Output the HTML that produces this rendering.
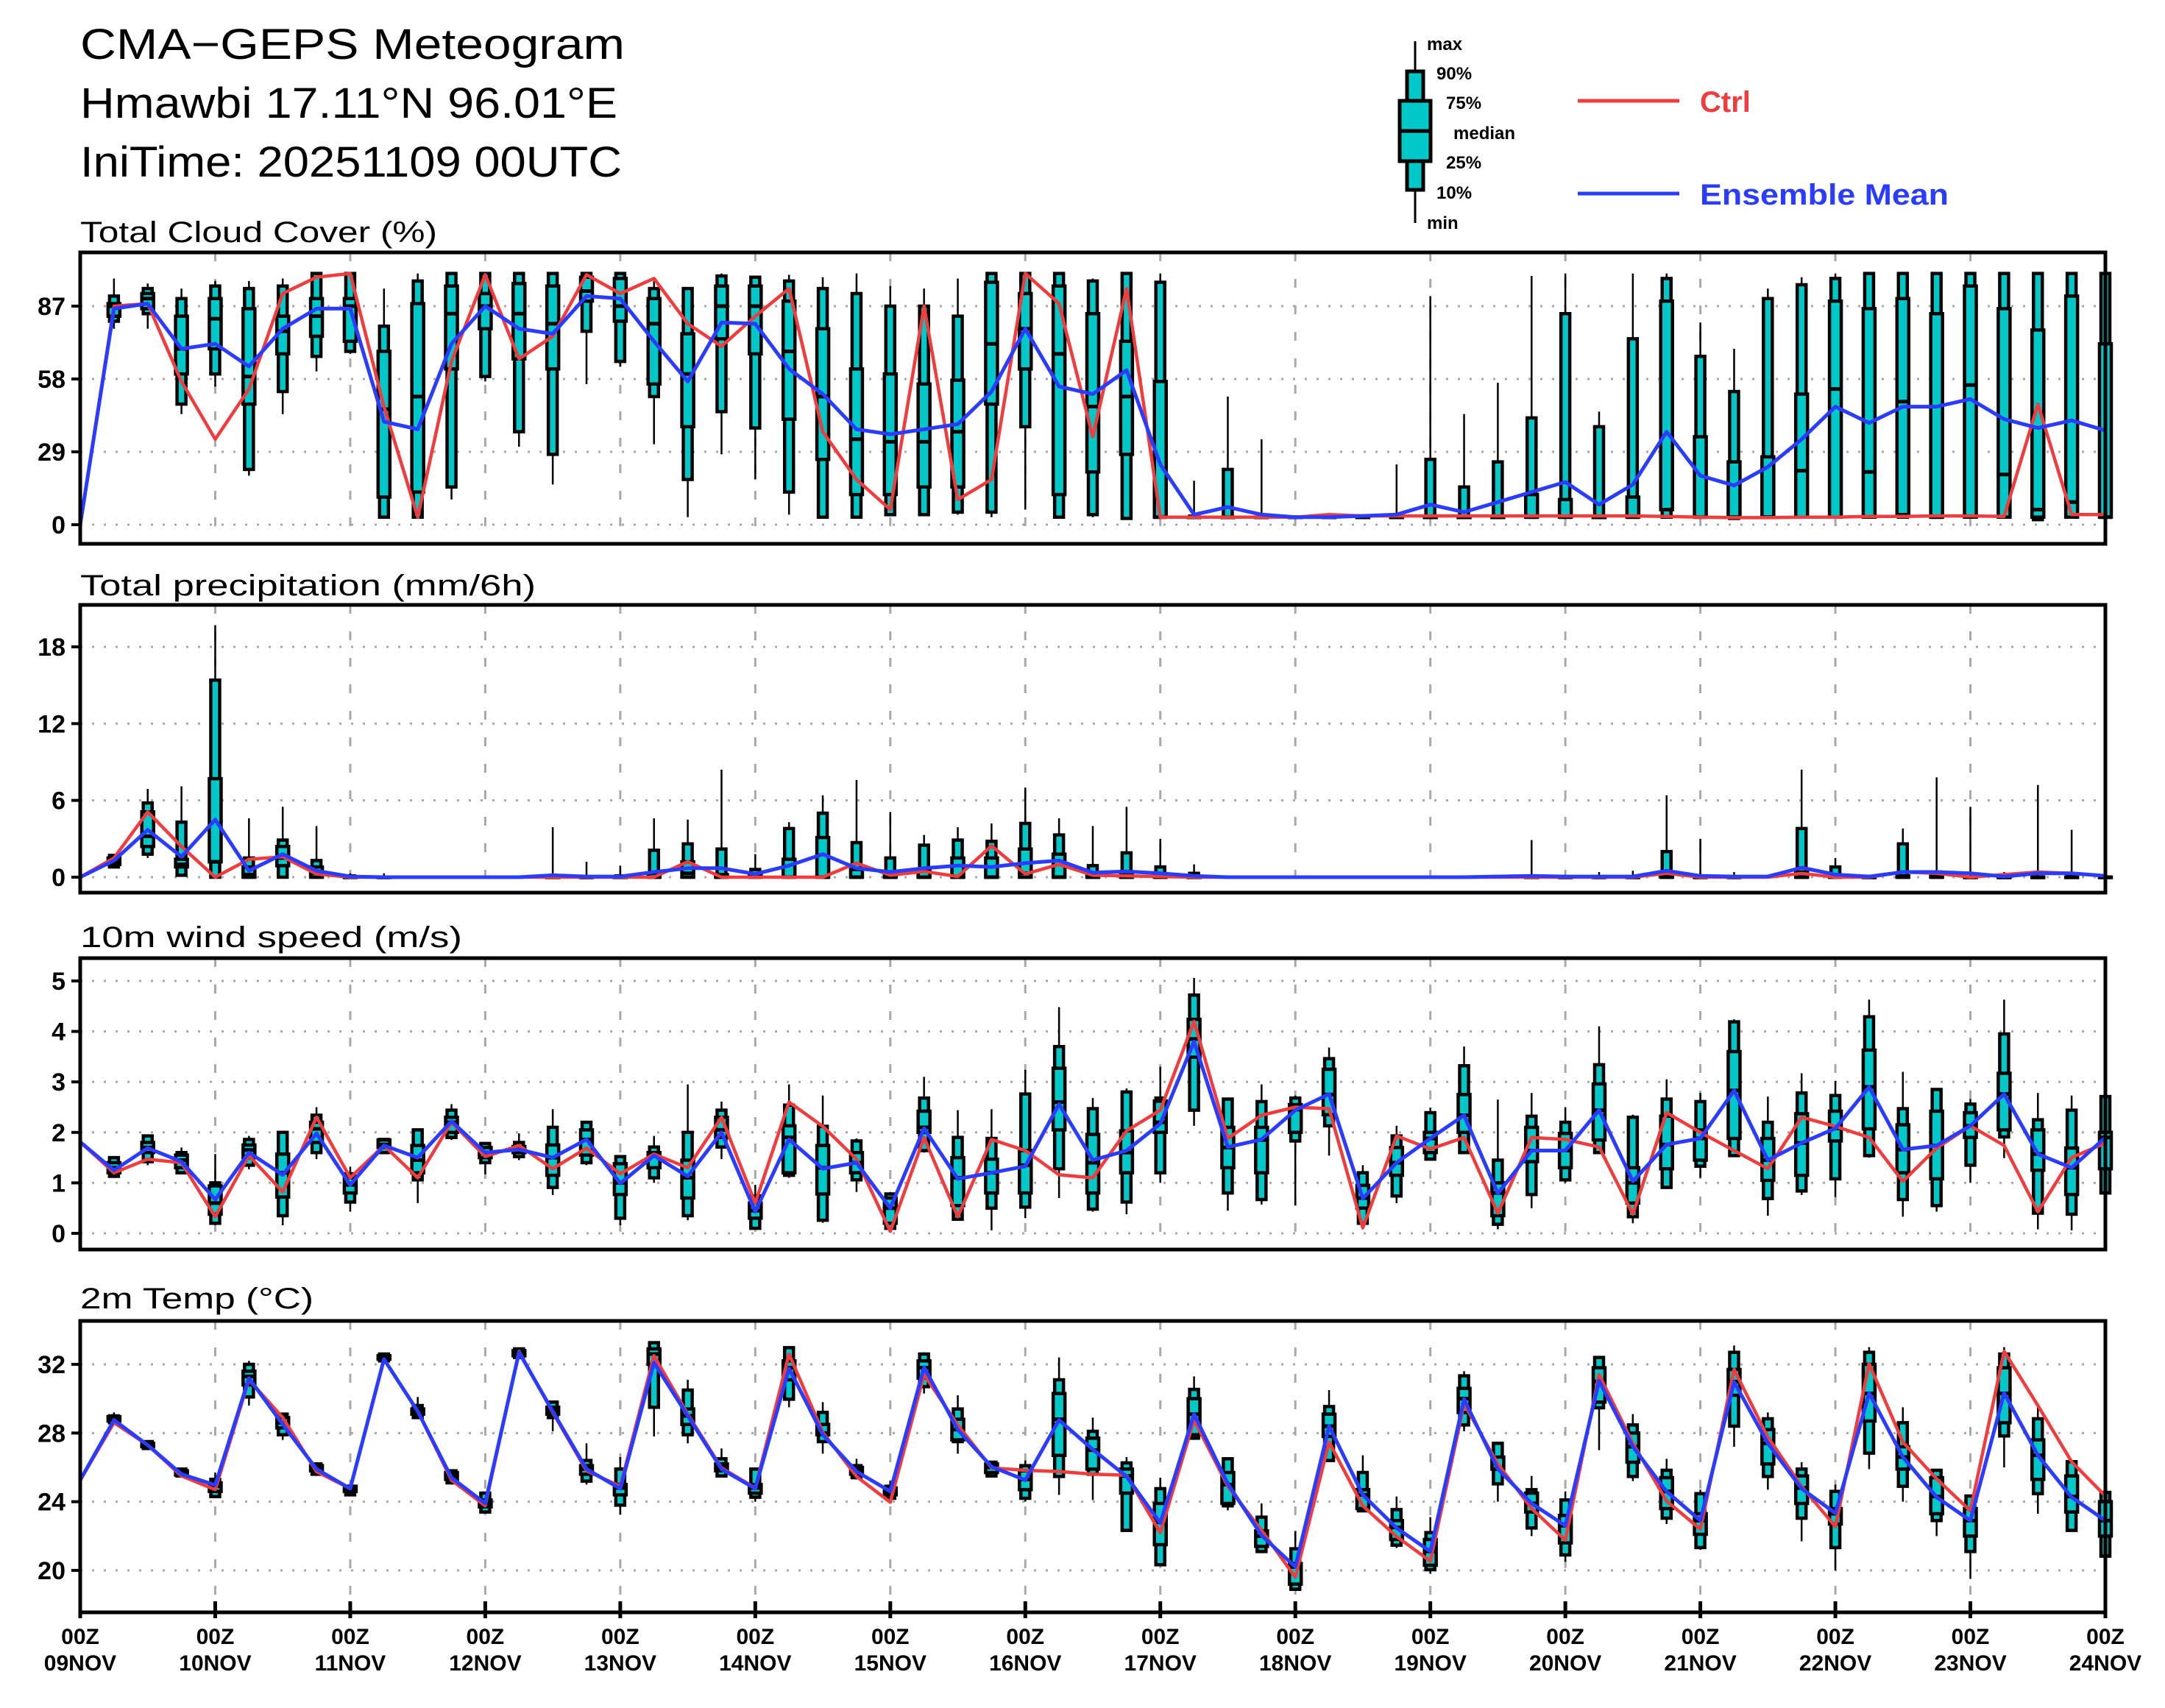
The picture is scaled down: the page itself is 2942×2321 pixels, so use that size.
<!DOCTYPE html>
<html><head><meta charset="utf-8"><title>CMA-GEPS Meteogram</title>
<style>
html,body{margin:0;padding:0;background:#fff;}
svg{display:block;font-family:"Liberation Sans",sans-serif;}
</style></head>
<body>
<svg id="chart" width="2942" height="2321" viewBox="0 0 2942 2321" xmlns="http://www.w3.org/2000/svg">
<rect width="2942" height="2321" fill="#fff"/>
<g font-size="58" fill="#000">
<text x="109" y="80" textLength="740" lengthAdjust="spacingAndGlyphs">CMA−GEPS Meteogram</text>
<text x="109" y="160" textLength="730" lengthAdjust="spacingAndGlyphs">Hmawbi 17.11°N 96.01°E</text>
<text x="109" y="240" textLength="736" lengthAdjust="spacingAndGlyphs">IniTime: 20251109 00UTC</text>
</g>
<g>
<g>
<line x1="1923" y1="56" x2="1923" y2="303" stroke="#000" stroke-width="3"/>
<rect x="1912" y="97" width="22" height="161" fill="#00c8c8" stroke="#000" stroke-width="5"/>
<rect x="1902" y="137" width="42" height="82" fill="#00c8c8" stroke="#000" stroke-width="5"/>
<line x1="1900" y1="178" x2="1946" y2="178" stroke="#000" stroke-width="5"/>
</g>
<g font-size="24" font-weight="bold" fill="#000">
<text x="1939" y="68">max</text>
<text x="1952" y="108">90%</text>
<text x="1965" y="148">75%</text>
<text x="1975" y="189">median</text>
<text x="1965" y="229">25%</text>
<text x="1952" y="270">10%</text>
<text x="1939" y="311">min</text>
</g>
<line x1="2144" y1="137" x2="2282" y2="137" stroke="#f03c3c" stroke-width="5"/>
<text x="2310" y="152" font-size="40" font-weight="bold" fill="#f03c3c">Ctrl</text>
<line x1="2144" y1="263" x2="2282" y2="263" stroke="#2a3cff" stroke-width="5"/>
<text x="2310" y="278" font-size="40" font-weight="bold" fill="#2a3cff" textLength="338" lengthAdjust="spacingAndGlyphs">Ensemble Mean</text>
</g>
<g id="panels"></g>
</svg>
<script>
// ---- shared x categories (6-hourly steps, 61 points) ----
const dayLabels = ["09NOV","10NOV","11NOV","12NOV","13NOV","14NOV","15NOV","16NOV","17NOV","18NOV","19NOV","20NOV","21NOV","22NOV","23NOV","24NOV"];

// ---- Total cloud cover ----
const cloudTicks = [0,29,58,87];
const cloudCtrl = [0,87,88,57,34,54,92,98.5,100,47,3,65,99.5,66,75,99.5,92,98,80,71,83,94,37,18,6,87,10,18,100,88,35,94,3,3,3,3,3,4,3.5,3.5,3.5,3.5,3.5,3.5,3.5,3.5,3.5,3.3,3,2.8,2.8,3,3,3.3,3.3,3.5,3.5,3.3,48,4,4];
const cloudMean = [0,86,88,70,72,63,78,86,86,41,38,72,87,78,76,91,90,73,57,80.5,80,62,52,38,36,38,40,53,78,55,52,61.5,24,4,7,4,3,3,3.5,4,8,5,9,13,17,8,16,37,19.5,15.6,23,34,47,40.5,47,47,50,42,38.5,41.5,37.5];
const cloudBox = [null,
[78,81,83,87,88,91,98],[78,84,86,90,92,94,96],[44,48,60,70,83,90,94],[55,60,70,82,90,95,97],[19.5,22,48,59,86,94,97],
[44,53,68,77,83,95,98],[61,67,75,83,90,100,100],[68,69,73,87,90,100,100],[3,3,11,46,69,79,94],[3,3,13,51,88,97,100],
[10,15,62,84,95,100,100],[57,59,78,87,92,100,100],[31,37,66,84,96,100,100],[16,28,62,80,95,100,100],[56,77,89,93,98.5,100,100],
[63,65,81,87,98,100,100],[32,51,56,80,90,94,97],[3,18,39,60,76,94,94],[28,45,74,87,95,99,100],[18,38.5,68,87,95,98.5,99],
[4,13,42,69,89,97,99.5],[3,3,26,51,78,94,98.5],[3,3,12,34,62,92,100],[4,4,12,33,60,87,95],[4,4,15,33,56,87,94],
[4,5,15,37,57.5,83,98],[3,5,48,72,96.5,100,100],[6,39,62,78,92,100,100],[2.5,3,12,68,95,100,100],[3,4,21,47,84,97,98],
[2.5,2.5,28,51,73,100,100],[3,3,3,3,57,96.5,100],[3,3,3,3,3,3.4,17.5],[3,3,3,3,3,22,51],[3,3,3,3,3,3,34],
[3,3,3,3,3,3,3.5],[3,3,3,3,3,3,4],[3,3,3,3,3,3,4],[3,3,3,3,3,3,24],[3,3,3,3,3,26,91],
[3,3,3,3,3,15,44],[3,3,3,3,3,25,56.5],[3,3,3,3,12,42.5,99],[3,3,3,3,10,84,100],[3,3,3,3,3,39,45],
[3,3,3,3,11,74,100],[3,3,6,6,89,98,100],[3,3,3,3,35,67,80.5],[2.5,2.5,3,3,25,53,70],[3,3,3,3,27,90,94],
[3,3,3,21.5,52,95.5,98.5],[3,3,3,54,89,98,100],[3,3,3,21,86,100,100],[3,3,4,49,90,100,100],[3,3,3,3,84,100,100],
[3,3,3,55.6,95,100,100],[3,3,3,20,86,100,100],[2,2,3,6,77.5,100,100],[3,3,3,9,91,100,100],[3,3,3,3,72,100,100]];

// ---- Total precipitation ----
const precipTicks = [0,6,12,18];
const precipCtrl = [0,1.5,5.1,2.4,0,1.4,1.6,0.25,0,0,0,0,0,0,0,0,0,0,1.2,0,0,0,0,1.1,0.15,0.45,0.05,2.45,0.25,1.0,0.15,0.1,0.05,0,0,0,0,0,0,0,0,0,0,0,0,0,0,0.3,0,0,0,0.3,0,0,0.4,0.3,0,0.2,0.4,0.3,0.1];
const precipMean = [0,1.3,3.7,1.6,4.5,0.5,1.8,0.5,0.05,0,0,0,0,0,0.15,0.05,0.05,0.4,0.7,0.7,0.25,0.9,1.8,0.7,0.4,0.7,0.9,0.8,1.1,1.3,0.35,0.45,0.3,0.1,0,0,0,0,0,0,0,0,0.05,0.1,0.05,0.05,0.05,0.5,0.1,0.05,0.05,0.75,0.2,0.05,0.4,0.4,0.3,0.05,0.3,0.3,0.1];
const precipBox = [null,
[0.8,0.8,1.0,1.2,1.5,1.7,1.7],[1.5,1.8,2.4,3.2,5.1,5.8,6.9],[0.15,0.15,0.8,1.0,1.4,4.3,7.1],[0,0,1.2,1.2,7.7,15.4,19.7],[0,0,0,0.2,0.8,1.5,4.6],
[0,0,0.9,1.5,2.4,2.9,5.5],[0,0,0,0.3,0.8,1.3,4],[0,0,0,0,0,0.1,0.3],[0,0,0,0,0,0,0.3],[0,0,0,0,0,0,0],
[0,0,0,0,0,0,0],[0,0,0,0,0,0,0],[0,0,0,0,0,0,0],[0,0,0,0,0,0.05,3.9],[0,0,0,0,0,0,1.2],
[0,0,0,0,0,0.1,0.9],[0,0,0,0,0.3,2.1,4.6],[0,0,0,0.3,1.2,2.6,4.5],[0,0,0,0,0.2,2.2,8.4],[0,0,0,0,0.2,0.6,1.8],
[0,0,0,0,1.4,3.8,4.3],[0,0,0,0,3.1,5.0,6.4],[0,0,0,0,0.6,2.7,7.6],[0,0,0,0,0.2,1.5,5.1],[0,0,0,0,0.6,2.5,3.3],
[0,0,0,0,1.5,2.9,3.9],[0,0,0,0,1.5,2.8,4.2],[0,0,0,0.3,2.2,4.2,7.0],[0,0,0,0,1.8,3.3,4.6],[0,0,0,0,0.2,0.9,4.0],
[0,0,0,0,0.2,1.9,5.5],[0,0,0,0,0.1,0.8,3.0],[0,0,0,0,0,0.3,1.0],[0,0,0,0,0,0,0],[0,0,0,0,0,0,0],
[0,0,0,0,0,0,0],[0,0,0,0,0,0,0],[0,0,0,0,0,0,0],[0,0,0,0,0,0,0],[0,0,0,0,0,0,0],
[0,0,0,0,0,0,0],[0,0,0,0,0,0,0],[0,0,0,0,0,0.1,2.9],[0,0,0,0,0,0,0.2],[0,0,0,0,0,0,0.4],
[0,0,0,0,0,0,0.5],[0,0,0,0,0.2,2.0,6.4],[0,0,0,0,0,0,3.0],[0,0,0,0,0,0,0.4],[0,0,0,0,0,0,0],
[0,0,0,0,0.4,3.8,8.4],[0,0,0,0,0.1,0.8,1.5],[0,0,0,0,0,0,0.2],[0,0,0,0,0.1,2.6,3.8],[0,0,0,0,0.1,0.4,7.8],
[0,0,0,0,0,0,5.5],[0,0,0,0,0,0,0.4],[0,0,0,0,0,0,7.2],[0,0,0,0,0,0.1,3.7],[0,0,0,0,0,0,0.2]];

// ---- 10m wind speed ----
const windTicks = [0,1,2,3,4,5];
const windCtrl = [1.81,1.2,1.47,1.4,0.33,1.54,0.82,2.3,1.1,1.74,1.1,2.2,1.52,1.74,1.28,1.69,1.18,1.57,1.3,2.3,0.6,2.6,2.12,1.47,0.04,1.9,0.33,1.86,1.64,1.16,1.1,2.03,2.44,4.2,1.88,2.34,2.5,2.47,0.11,1.93,1.67,1.9,0.4,1.9,1.86,1.71,0.38,2.39,2.0,1.64,1.28,2.3,2.12,1.9,1.03,1.69,2.13,1.74,0.43,1.5,1.79];
const windMean = [1.81,1.25,1.69,1.42,0.67,1.6,1.16,1.98,0.96,1.74,1.5,2.22,1.6,1.66,1.5,1.86,0.99,1.54,1.13,2.0,0.43,1.86,1.28,1.4,0.5,2.08,1.08,1.2,1.33,2.56,1.45,1.64,2.17,3.8,1.71,1.86,2.44,2.76,0.69,1.4,1.88,2.34,0.79,1.64,1.64,2.44,1.03,1.76,1.88,2.83,1.45,1.79,2.08,2.9,1.66,1.74,2.13,2.76,1.57,1.3,1.9];
const windBox = [null,
[1.1,1.13,1.2,1.3,1.4,1.5,1.52],[1.35,1.42,1.6,1.7,1.8,1.93,1.93],[1.2,1.2,1.3,1.45,1.55,1.6,1.7],[0.16,0.2,0.38,0.6,0.94,1.0,1.57],[1.27,1.35,1.5,1.65,1.75,1.86,1.93],
[0.16,0.35,0.72,1.2,1.57,2.0,2.0],[1.47,1.6,1.8,2.07,2.2,2.34,2.5],[0.43,0.62,0.8,0.96,1.1,1.18,1.32],[1.6,1.6,1.7,1.76,1.85,1.86,1.88],[0.6,1.06,1.2,1.45,1.74,2.05,2.08],
[1.85,1.9,2.0,2.2,2.3,2.44,2.56],[1.17,1.4,1.5,1.6,1.7,1.78,1.78],[1.45,1.52,1.6,1.66,1.72,1.8,1.98],[0.76,0.91,1.15,1.5,1.75,2.1,2.46],[1.35,1.4,1.55,1.86,2.05,2.2,2.22],
[0.16,0.3,0.77,1.0,1.38,1.52,1.54],[1.0,1.1,1.3,1.54,1.6,1.71,1.93],[0.26,0.35,0.7,1.1,1.45,2.0,2.95],[1.47,1.71,1.9,2.05,2.3,2.44,2.61],[0.08,0.1,0.3,0.45,0.6,0.74,0.96],
[1.1,1.15,1.2,1.9,2.13,2.54,2.95],[0.21,0.26,0.78,1.3,1.74,2.12,2.73],[0.82,1.06,1.2,1.4,1.6,1.83,1.88],[0.08,0.1,0.2,0.5,0.7,0.78,0.82],[1.6,1.64,2.0,2.1,2.42,2.68,3.1],
[0.26,0.28,0.55,1.1,1.5,1.9,2.44],[0.06,0.5,0.8,1.2,1.47,1.88,2.46],[0.3,0.52,0.8,1.35,1.64,2.76,3.24],[0.7,1.28,2.05,2.6,3.27,3.7,4.48],[0.43,0.48,0.8,1.4,1.96,2.47,2.68],
[0.38,0.62,1.2,1.6,2.03,2.8,2.87],[1.0,1.2,2.0,2.2,2.62,2.68,3.3],[2.13,2.44,3.49,3.85,4.24,4.72,5.06],[0.45,0.8,1.3,1.7,2.1,2.66,2.66],[0.57,0.67,1.2,1.85,2.1,2.61,2.95],
[0.55,1.83,2.0,2.45,2.55,2.68,2.73],[1.54,2.13,2.35,2.75,3.25,3.46,3.68],[0.18,0.2,0.5,0.7,0.95,1.2,1.35],[0.6,0.74,1.15,1.4,1.7,1.93,2.13],[1.45,1.47,1.6,1.88,2.0,2.39,2.49],
[1.6,1.6,2.0,2.34,2.75,3.32,3.7],[0.08,0.18,0.35,0.8,1.0,1.45,2.65],[0.5,0.77,1.42,1.64,2.1,2.32,2.78],[1.0,1.06,1.3,1.64,1.98,2.2,2.5],[1.6,1.6,1.85,2.44,2.96,3.34,4.1],
[0.2,0.33,0.6,1.0,1.3,2.3,2.35],[0.89,0.91,1.28,1.76,2.32,2.66,3.05],[1.1,1.33,1.45,1.88,2.05,2.61,2.78],[1.54,1.54,1.88,2.83,3.6,4.19,4.24],[0.35,0.69,1.05,1.45,1.88,2.2,2.71],
[0.76,0.84,1.15,1.79,2.37,2.78,3.17],[0.72,1.08,1.83,2.08,2.42,2.73,3.02],[1.5,1.54,2.07,2.9,3.63,4.29,4.63],[0.33,0.67,1.2,1.66,2.15,2.47,3.2],[0.43,0.55,1.08,1.74,2.42,2.85,2.85],
[1.0,1.35,1.9,2.13,2.39,2.56,2.66],[1.49,1.91,2.05,2.76,3.17,3.95,4.63],[0.08,0.4,1.25,1.57,2.05,2.25,2.78],[0.06,0.38,0.77,1.3,1.69,2.44,2.73],[0.8,0.8,1.28,1.9,2.0,2.71,2.75]];

// ---- 2m temperature ----
const tempTicks = [20,24,28,32];
const tempCtrl = [25.26,28.6,27.3,25.5,24.7,31.1,28.9,25.75,24.76,32.3,29.26,25.26,23.76,32.76,29.2,25.8,24.9,32.5,29.1,25.97,24.8,32.6,28.04,25.47,23.97,31.4,28.47,25.97,25.83,25.76,25.6,25.54,22.2,28.76,24.9,22.33,19.6,27.47,23.76,21.97,20.54,29.7,26.2,23.6,21.76,31.4,27.4,24.04,22.4,31.7,27.76,24.9,22.54,32.04,27.47,25.33,23.47,32.76,29.6,26.33,24.33];
const tempMean = [25.26,28.76,27.3,25.6,24.97,31.2,28.5,25.9,24.76,32.3,29.26,25.4,23.9,32.7,29.26,25.9,24.76,32.1,29.0,25.9,24.76,31.76,27.9,25.76,24.6,31.83,28.2,26.04,25.26,28.76,27.04,25.47,22.76,29.1,25.04,22.04,20.2,28.4,24.4,22.47,21.1,29.97,25.9,23.9,22.6,31.04,27.2,24.6,22.9,30.97,27.4,24.76,23.33,30.33,26.6,24.26,22.9,30.33,26.7,24.26,22.9];
const tempBox = [null,
[28.5,28.6,28.7,28.8,28.95,29.0,29.2],[27.1,27.1,27.2,27.3,27.4,27.5,27.5],[25.4,25.5,25.55,25.7,25.8,25.9,25.9],[24.3,24.3,24.6,24.9,25.1,25.3,25.7],[29.6,30.1,30.8,31.3,31.6,32.0,32.2],
[27.6,27.9,28.3,28.6,28.9,29.1,29.1],[25.5,25.6,25.8,25.9,26.1,26.2,26.3],[24.4,24.4,24.6,24.8,24.9,24.9,24.9],[32.2,32.2,32.3,32.4,32.5,32.6,32.6],[28.9,28.9,29.1,29.3,29.4,29.6,30.1],
[25.0,25.1,25.3,25.5,25.7,25.8,25.8],[23.3,23.4,23.7,23.9,24.1,24.5,24.5],[32.4,32.4,32.5,32.7,32.8,32.9,32.9],[28.1,28.9,29.1,29.3,29.5,29.8,29.8],[25.0,25.2,25.6,25.9,26.1,26.4,27.4],
[23.26,23.8,24.4,24.8,25.0,25.9,26.6],[27.8,29.5,32.0,32.6,32.9,33.26,33.3],[27.4,27.9,28.5,29.0,29.4,30.5,31.1],[25.5,25.5,25.8,26.0,26.2,26.5,27.1],[24.0,24.26,24.5,24.8,25.0,25.9,25.9],
[29.5,29.97,31.1,31.8,32.2,32.97,33.0],[26.8,27.5,27.9,28.0,28.5,29.2,29.8],[25.3,25.4,25.6,25.8,26.0,26.1,26.5],[24.0,24.2,24.4,24.6,24.8,24.9,25.2],[30.3,30.7,31.2,31.8,32.2,32.6,32.7],
[26.8,27.5,27.6,28.2,28.8,29.4,30.2],[25.4,25.5,25.7,26.0,26.2,26.3,26.3],[24.0,24.2,24.7,25.3,25.8,26.1,26.4],[24.4,25.47,26.7,28.8,30.3,31.1,32.4],[24.1,25.6,25.9,27.0,27.7,28.1,28.9],
[22.33,22.33,24.5,25.5,25.9,26.26,26.6],[20.33,20.33,21.5,22.8,23.9,24.76,25.4],[27.6,27.7,27.9,29.1,30.0,30.54,31.3],[23.5,23.76,23.9,25.0,25.7,26.5,26.6],[21.0,21.1,21.4,22.0,22.3,23.1,23.9],
[18.8,18.9,19.2,20.2,20.4,21.26,22.3],[26.3,26.4,27.8,28.4,29.1,29.54,30.5],[23.47,23.47,23.6,24.4,24.7,25.7,26.7],[21.3,21.47,21.8,22.5,22.9,23.54,24.3],[19.8,20.04,20.3,21.1,21.8,22.2,23.1],
[28.1,28.47,29.2,30.0,30.6,31.33,31.6],[24.0,25.04,25.9,25.9,26.6,27.4,27.5],[22.0,22.47,23.4,23.9,24.5,24.7,25.5],[20.5,20.9,21.6,22.6,23.2,24.1,24.6],[27.0,29.47,29.8,31.0,31.8,32.4,32.4],
[25.2,25.47,26.3,27.2,28.0,28.47,29.1],[22.7,23.04,23.6,24.6,25.4,25.83,26.5],[21.2,21.33,22.1,22.9,23.3,24.47,24.7],[27.2,28.4,30.2,31.0,31.7,32.7,33.1],[24.7,25.47,26.2,27.4,28.2,28.83,29.2],
[21.7,23.04,23.9,24.8,25.5,25.9,26.3],[20.0,21.33,22.7,23.3,23.6,24.6,25.0],[25.9,26.83,28.7,30.3,32.0,32.7,33.0],[24.0,24.9,25.9,26.6,27.2,28.6,29.5],[22.0,22.9,23.3,24.3,25.4,25.83,25.9],
[19.5,21.1,22.0,22.9,23.6,24.33,24.4],[26.0,27.83,28.6,30.3,31.8,32.6,33.0],[23.3,24.47,25.3,26.7,27.6,28.83,29.6],[22.3,22.33,23.4,24.3,25.5,26.33,26.3],[20.83,20.83,22.0,22.9,24.0,24.54,24.6]];

const NS = "http://www.w3.org/2000/svg";
const X0 = 109, X1 = 2861, NSTEP = 60;
function xPos(i){ return X0 + (X1 - X0) * i / NSTEP; }
function mk(tag, attrs, parent){
  const e = document.createElementNS(NS, tag);
  for (const k in attrs) e.setAttribute(k, attrs[k]);
  if (parent) parent.appendChild(e);
  return e;
}
const root = document.getElementById("panels");

function drawPanel(cfg){
  const g = mk("g", {}, root);
  
  
  const y = v => cfg.y0 + (v - cfg.v0) * (cfg.y1 - cfg.y0) / (cfg.v1 - cfg.v0);
  // title
  const t = mk("text", {x: X0, y: cfg.titleY, "font-size": 40, textLength: cfg.titleW, lengthAdjust: "spacingAndGlyphs"}, g);
  t.textContent = cfg.title;
  
  
  // gridlines
  const grid = mk("g", {stroke: "#a8a8a8", "stroke-width": 3, fill: "none"}, g);
  
  
  cfg.ticks.forEach(v => {
    mk("line", {x1: X0, x2: X1, y1: y(v), y2: y(v), "stroke-dasharray": "3 13"}, grid);
  });
  for (let d = 1; d < dayLabels.length - 1; d++) {
    mk("line", {x1: xPos(d*4), x2: xPos(d*4), y1: cfg.top, y2: cfg.bot, "stroke-dasharray": "12 24"}, grid);
  }
  // y ticks & labels
  const yt = mk("g", {}, g);
  
  
  cfg.ticks.forEach(v => {
    mk("line", {x1: X0 - 12, x2: X0, y1: y(v), y2: y(v), stroke: "#000", "stroke-width": 4}, yt);
    const l = mk("text", {x: X0 - 20, y: y(v) + 12, "font-size": 34, "font-weight": "bold", "text-anchor": "end"}, yt);
    l.textContent = v;
  });
  // boxes
  const bx = mk("g", {}, g);
  
  
  cfg.box.forEach((b, i) => {
    if (!b) return;
    if (b[6] - b[0] < 0.02 && cfg.skipZero) return;
    const cx = xPos(i);
    const bg = mk("g", {}, bx);
    
    
    mk("line", {x1: cx, x2: cx, y1: y(b[0]), y2: y(b[6]), stroke: "#000", "stroke-width": 2.5}, bg);
    mk("rect", {x: cx - 6, y: y(b[5]), width: 12, height: Math.max(0.5, y(b[1]) - y(b[5])), fill: "#00c8c8", stroke: "#000", "stroke-width": 4.5}, bg);
    mk("rect", {x: cx - 8, y: y(b[4]), width: 16, height: Math.max(0.5, y(b[2]) - y(b[4])), fill: "#00c8c8", stroke: "#000", "stroke-width": 4.5}, bg);
    mk("line", {x1: cx - 9, x2: cx + 9, y1: y(b[3]), y2: y(b[3]), stroke: "#000", "stroke-width": 5}, bg);
  });
  // lines
  const ctrlPts = cfg.ctrl.map((v, i) => xPos(i).toFixed(1) + "," + y(v).toFixed(1)).join(" ");
  const pc = mk("polyline", {points: ctrlPts, fill: "none", stroke: "#f03c3c", "stroke-width": 4.5, "stroke-linejoin": "round"}, g);
  
  
  const meanPts = cfg.mean.map((v, i) => xPos(i).toFixed(1) + "," + y(v).toFixed(1)).join(" ");
  const pm = mk("polyline", {points: meanPts, fill: "none", stroke: "#2a3cff", "stroke-width": 5, "stroke-linejoin": "round"}, g);
  
  
  // frame
  const fr = mk("rect", {x: X0, y: cfg.top, width: X1 - X0, height: cfg.bot - cfg.top, fill: "none", stroke: "#000", "stroke-width": 5}, g);
  
  
}

drawPanel({name: "cloud-cover", title: "Total Cloud Cover (%)", titleY: 329, titleW: 485, top: 343, bot: 739,
  v0: 0, v1: 87, y0: 713, y1: 416, ticks: cloudTicks, ctrl: cloudCtrl, mean: cloudMean, box: cloudBox, skipZero: false});
drawPanel({name: "precipitation", title: "Total precipitation (mm/6h)", titleY: 809, titleW: 619, top: 822, bot: 1213,
  v0: 0, v1: 18, y0: 1192, y1: 879, ticks: precipTicks, ctrl: precipCtrl, mean: precipMean, box: precipBox, skipZero: true});
drawPanel({name: "wind-speed", title: "10m wind speed (m/s)", titleY: 1287, titleW: 519, top: 1302, bot: 1698,
  v0: 0, v1: 5, y0: 1676, y1: 1333, ticks: windTicks, ctrl: windCtrl, mean: windMean, box: windBox, skipZero: false});
drawPanel({name: "temperature", title: "2m Temp (°C)", titleY: 1778, titleW: 317, top: 1795, bot: 2191,
  v0: 20, v1: 32, y0: 2134, y1: 1854, ticks: tempTicks, ctrl: tempCtrl, mean: tempMean, box: tempBox, skipZero: false});

// x axis labels & ticks
const xa = mk("g", {"font-size": 30, "font-weight": "bold", "text-anchor": "middle"}, root);


dayLabels.forEach((lab, d) => {
  const cx = xPos(d*4);
  mk("line", {x1: cx, x2: cx, y1: 2176, y2: 2199, stroke: "#000", "stroke-width": 5}, xa);
  const t1 = mk("text", {x: cx, y: 2234}, xa);
  t1.textContent = "00Z";
  
  
  const t2 = mk("text", {x: cx, y: 2270}, xa);
  t2.textContent = lab;
  
  
});
</script>
</body></html>
